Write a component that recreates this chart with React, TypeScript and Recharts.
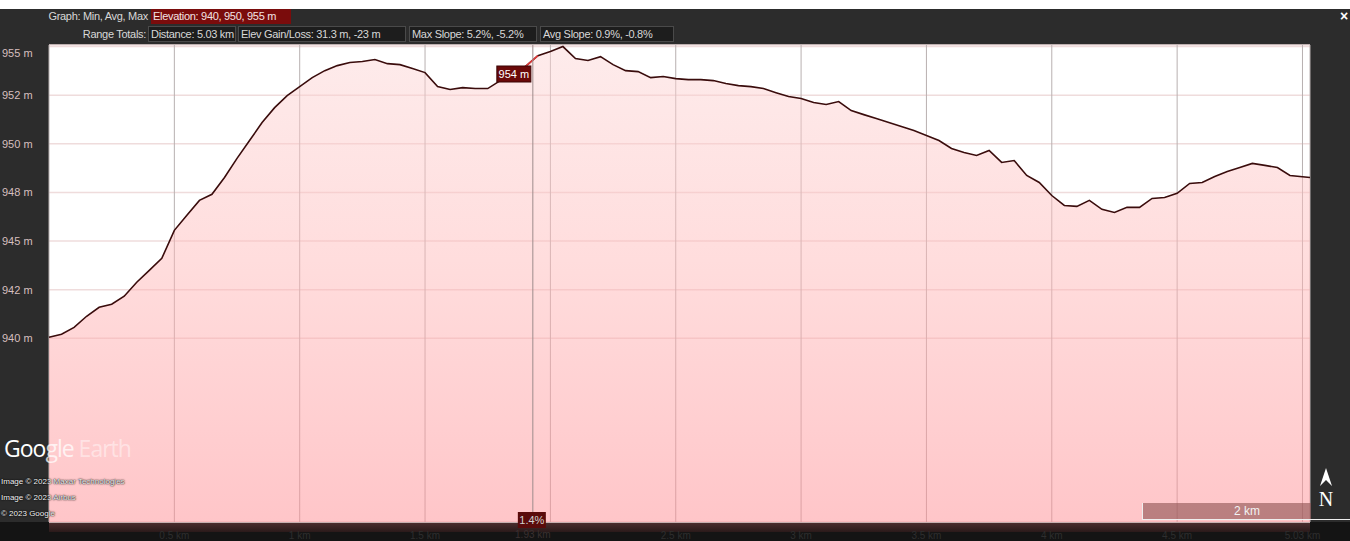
import {
  AreaChart,
  Area,
  Line,
  XAxis,
  YAxis,
  CartesianGrid,
  ReferenceLine,
  ReferenceDot,
} from "recharts";

const distanceKm = [
  0, 0.05, 0.1, 0.15, 0.2, 0.25, 0.3, 0.35, 0.4, 0.45,
  0.5, 0.55, 0.6, 0.65, 0.7, 0.75, 0.8, 0.85, 0.9, 0.95,
  1.0, 1.05, 1.1, 1.15, 1.2, 1.25, 1.3, 1.35, 1.4, 1.45,
  1.5, 1.55, 1.6, 1.65, 1.7, 1.75, 1.8, 1.85, 1.9, 1.95,
  2.0, 2.05, 2.1, 2.15, 2.2, 2.25, 2.3, 2.35, 2.4, 2.45,
  2.5, 2.55, 2.6, 2.65, 2.7, 2.75, 2.8, 2.85, 2.9, 2.95,
  3.0, 3.05, 3.1, 3.15, 3.2, 3.25, 3.3, 3.35, 3.4, 3.45,
  3.5, 3.55, 3.6, 3.65, 3.7, 3.75, 3.8, 3.85, 3.9, 3.95,
  4.0, 4.05, 4.1, 4.15, 4.2, 4.25, 4.3, 4.35, 4.4, 4.45,
  4.5, 4.55, 4.6, 4.65, 4.7, 4.75, 4.8, 4.85, 4.9, 4.95,
  5.03,
];

const elevationM = [
  940.05, 940.21, 940.56, 941.13, 941.59, 941.75, 942.16, 942.88, 943.49, 944.11,
  945.55, 946.32, 947.09, 947.4, 948.27, 949.25, 950.17, 951.09, 951.86, 952.48,
  952.94, 953.4, 953.76, 954.02, 954.18, 954.23, 954.33, 954.12, 954.07, 953.87,
  953.66, 952.94, 952.79, 952.89, 952.84, 952.84, 953.25, 953.71, 953.97, 954.53,
  954.74, 955.0, 954.38, 954.28, 954.48, 954.07, 953.76, 953.71, 953.4, 953.46,
  953.35, 953.3, 953.3, 953.25, 953.1, 952.99, 952.94, 952.84, 952.63, 952.43,
  952.33, 952.12, 952.02, 952.17, 951.71, 951.5, 951.3, 951.09, 950.89, 950.68,
  950.43, 950.17, 949.76, 949.55, 949.4, 949.66, 949.04, 949.14, 948.37, 948.01,
  947.34, 946.83, 946.78, 947.09, 946.63, 946.47, 946.73, 946.73, 947.19, 947.24,
  947.45, 947.96, 948.01, 948.32, 948.58, 948.78, 948.99, 948.89, 948.78, 948.37,
  948.27,
];

// cursor readout
const cursorKm = 1.93;
const cursorElev = 954;
const cursorSlope = "1.4%";
const highlightIdx = [38, 39];

const yTicks = [940, 942.5, 945, 947.5, 950, 952.5, 955];
const yTickLabels = ["940 m", "942 m", "945 m", "948 m", "950 m", "952 m", "955 m"];
const xTicks = [0.5, 1, 1.5, 2, 2.5, 3, 3.5, 4, 4.5, 5];
// 2 km label is hidden behind the cursor readout
const xTickLabels = ["0.5 km", "1 km", "1.5 km", "", "2.5 km", "3 km", "3.5 km", "4 km", "4.5 km", "5.03 km"];

const headerStats = [
  "Distance: 5.03 km",
  "Elev Gain/Loss: 31.3 m, -23 m",
  "Max Slope: 5.2%, -5.2%",
  "Avg Slope: 0.9%, -0.8%",
];
const statBoxes = [
  { left: 148, width: 88 },
  { left: 238, width: 168 },
  { left: 409, width: 128 },
  { left: 540, width: 134 },
];
const credits = ["Image © 2023 Maxar Technologies", "Image © 2023 Airbus", "© 2023 Google"];

const data = distanceKm.map((d, i) => ({
  km: d,
  elev: elevationM[i],
  hl: highlightIdx.includes(i) ? elevationM[i] : null,
}));

const FONT = '"Liberation Sans", Arial, sans-serif';
const PANEL = "#2c2c2c";

function YTick(props: any) {
  const { y, payload } = props;
  const i = yTicks.indexOf(payload.value);
  return (
    <text x={2} y={payload.value === 955 ? y + 6 : y} dy={4} fill="#d6bfbf" fontSize={11} fontFamily={FONT}>
      {yTickLabels[i]}
    </text>
  );
}

function XTick(props: any) {
  const { x, y, payload } = props;
  const i = xTicks.indexOf(payload.value);
  return (
    <text x={x} y={y + 9} textAnchor="middle" fill="#2e2e2e" fontSize={10} fontFamily={FONT}>
      {xTickLabels[i]}
    </text>
  );
}

function CursorLabel(props: any) {
  const vb = props.viewBox;
  if (!vb) return null;
  const bottom = vb.y + vb.height;
  return (
    <g>
      <rect x={vb.x - 15} y={bottom - 10} width={28} height={16} fill="#5a0b0b" />
      <text x={vb.x - 1} y={bottom + 2} textAnchor="middle" fill="#cfcfcf" fontSize={11} fontFamily={FONT}>
        {cursorSlope}
      </text>
      <text x={vb.x} y={bottom + 16} textAnchor="middle" fill="#3a3030" fontSize={10} fontFamily={FONT}>
        {cursorKm} km
      </text>
    </g>
  );
}

function ElevTag(props: any) {
  const { cx, cy } = props;
  return (
    <g>
      <rect x={cx - 36} y={cy} width={34} height={16} fill="#6a0909" stroke="#3a0505" />
      <text x={cx - 19} y={cy + 12} textAnchor="middle" fill="#fff" fontSize={11} fontFamily={FONT}>
        {cursorElev} m
      </text>
    </g>
  );
}

const txt = (extra: any) => ({
  position: "absolute" as const,
  fontFamily: FONT,
  fontSize: 11,
  whiteSpace: "nowrap" as const,
  lineHeight: "14px",
  ...extra,
});

export default function App() {
  return (
    <div style={{ position: "fixed", left: 0, top: 0, width: 1350, height: 541, background: "#fff", overflow: "hidden" }}>
      {/* dark frame */}
      <div style={{ position: "absolute", left: 0, top: 9, width: 1350, height: 513, background: PANEL }} />
      <div style={{ position: "absolute", left: 0, top: 522, width: 1350, height: 19, background: "#141414" }} />
      <div
        style={{
          position: "absolute",
          left: 49,
          top: 522,
          width: 1261,
          height: 10,
          background: "linear-gradient(#4e2f30, #2a1a1a)",
        }}
      />

      {/* header */}
      <div style={txt({ right: 1350 - 148, top: 9, color: "#d8d8d8", letterSpacing: -0.3 })}>Graph: Min, Avg, Max</div>
      <div
        style={txt({
          left: 151,
          top: 9,
          width: 140,
          height: 15,
          background: "#7a0c0c",
          color: "#f2e4e4",
          paddingLeft: 2,
          boxSizing: "border-box",
          letterSpacing: -0.3,
        })}
      >
        Elevation: 940, 950, 955 m
      </div>
      <div style={txt({ right: 1350 - 146, top: 27, color: "#d8d8d8", letterSpacing: -0.3 })}>Range Totals:</div>
      {headerStats.map((s, i) => (
        <div
          key={s}
          style={txt({
            left: statBoxes[i].left,
            top: 26,
            width: statBoxes[i].width,
            height: 16,
            background: "#1d1d1d",
            border: "1px solid #4a4a4a",
            color: "#d8d8d8",
            paddingLeft: 2,
            boxSizing: "border-box",
            letterSpacing: -0.3,
          })}
        >
          {s}
        </div>
      ))}
      <div style={txt({ left: 1340, top: 9, color: "#fff", fontSize: 14, fontWeight: "bold" })}>×</div>

      <div style={{ position: "absolute", left: 0, top: 0 }}>
        <AreaChart
          width={1350}
          height={541}
          data={data}
          margin={{ top: 45, right: 40, bottom: 0, left: 0 }}
        >
          <defs>
            <linearGradient id="elevFill" x1="0" y1="0" x2="0" y2="1">
              <stop offset="0%" stopColor="#fcd6d6" stopOpacity={0.8} />
              <stop offset="45%" stopColor="#ffb8b8" stopOpacity={0.8} />
              <stop offset="100%" stopColor="#ff8e94" stopOpacity={0.85} />
            </linearGradient>
          </defs>
          <CartesianGrid vertical={false} stroke="#efdcdc" fill="#ffffff" strokeWidth={1.5} />
          <CartesianGrid horizontal={false} stroke="#b8b0b0" />
          <XAxis
            dataKey="km"
            type="number"
            domain={[0, 5.03]}
            ticks={xTicks}
            height={19}
            tick={<XTick />}
            tickLine={false}
            axisLine={false}
          />
          <YAxis
            type="number"
            domain={[930.55, 955.08]}
            ticks={yTicks}
            width={49}
            tick={<YTick />}
            tickLine={false}
            axisLine={false}
            allowDataOverflow
          />
          <Area
            type="linear"
            dataKey="elev"
            stroke="#3a0c0c"
            strokeWidth={1.6}
            fill="url(#elevFill)"
            isAnimationActive={false}
          />
          <Line
            type="linear"
            dataKey="hl"
            stroke="#e03a3a"
            strokeWidth={1.6}
            dot={false}
            isAnimationActive={false}
          />
          <ReferenceLine x={cursorKm} stroke="#9d8b8b" label={<CursorLabel />} />
          <ReferenceDot x={cursorKm} y={cursorElev} shape={<ElevTag />} />
        </AreaChart>
      </div>

      {/* Google Earth overlay */}
      <div style={txt({ left: 4, top: 434, fontSize: 23, lineHeight: "28px", fontFamily: '"Open Sans", Roboto, sans-serif', letterSpacing: -1 })}>
        <span style={{ color: "#fff" }}>Goo</span>
        <span style={{ color: "rgba(255,255,255,0.75)" }}>gle</span>
        <span style={{ color: "rgba(255,255,255,0.45)" }}> Earth</span>
      </div>
      {credits.map((s, i) => (
        <div
          key={s}
          style={txt({
            left: 1,
            top: 475 + i * 16,
            fontSize: 8,
            color: "#f4f4f4",
            textShadow: "0 0 1px #000, 0 0 2px #000",
          })}
        >
          {s}
        </div>
      ))}

      {/* scale bar */}
      <div
        style={{
          position: "absolute",
          left: 1142,
          top: 503,
          width: 168,
          height: 16,
          background: "rgba(140,80,80,0.6)",
          borderLeft: "1px solid #eee",
        }}
      />
      <div style={{ position: "absolute", left: 1142, top: 519, width: 208, height: 1, background: "#eee" }} />
      <div style={txt({ left: 1234, top: 504, color: "#f2f2f2", fontSize: 12 })}>2 km</div>

      {/* north arrow */}
      <svg style={{ position: "absolute", left: 1316, top: 466 }} width={20} height={46}>
        <path d="M10 2 L16 20 L10 14 L4 20 Z" fill="#fff" />
        <text x={10} y={40} textAnchor="middle" fill="#fff" fontSize={20} fontFamily='"Liberation Serif", serif'>
          N
        </text>
      </svg>
    </div>
  );
}
